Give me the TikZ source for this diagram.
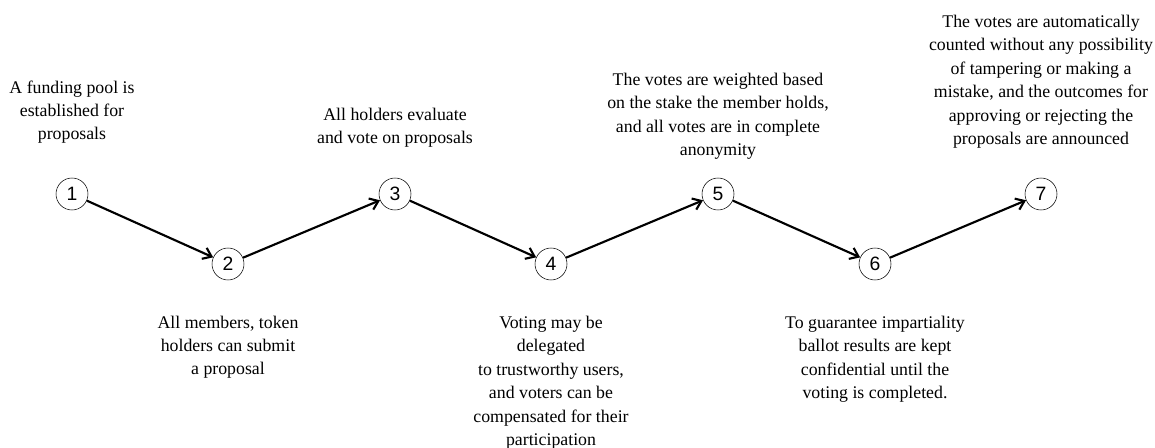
\documentclass[tikz,border=0pt]{standalone}
\usepackage{fontspec}
\setmainfont{Liberation Serif}
\newfontfamily\numfont{Liberation Sans}
\usetikzlibrary{arrows.meta}

\begin{document}
\begin{tikzpicture}[x=0.75pt, y=-0.75pt,
        stepnum/.style={draw=black, thin, circle, minimum size=24pt, inner sep=0pt,
            font=\numfont\fontsize{14.5}{14.5}\selectfont},
        stepnote/.style={align=center, anchor=base, inner sep=0pt,
            font=\fontsize{13.35}{17.6}\selectfont},
        stepline/.style={draw=black, line width=1.6pt,
            -{Straight Barb[length=6pt,width=9pt]}}]
        \useasboundingbox (0,0) rectangle (1155,448);

        % steps
        \node[stepnum] (s1) at (72,194) {1};
        \node[stepnum] (s2) at (228,264) {2};
        \node[stepnum] (s3) at (395,194) {3};
        \node[stepnum] (s4) at (551,264) {4};
        \node[stepnum] (s5) at (718,194) {5};
        \node[stepnum] (s6) at (875,264) {6};
        \node[stepnum] (s7) at (1041,194) {7};

        \draw[stepline] (s1) -- (s2);
        \draw[stepline] (s2) -- (s3);
        \draw[stepline] (s3) -- (s4);
        \draw[stepline] (s4) -- (s5);
        \draw[stepline] (s5) -- (s6);
        \draw[stepline] (s6) -- (s7);

        % notes (placed at the baseline of their last line)
        \node[stepnote] (n1) at (72,140) {A funding pool is\\ established for\\ proposals};
        \node[stepnote] (n2) at (228,375) {All members, token\\ holders can submit\\ a proposal};
        \node[stepnote] (n3) at (395,143.5) {All holders evaluate\\ and vote on proposals};
        \node[stepnote] (n4) at (551,445.5) {Voting may be\\ delegated\\ to trustworthy users,\\ and voters can be\\ compensated for their\\ participation};
        \node[stepnote] (n5) at (718,155.5) {The votes are weighted based\\ on the stake the member holds,\\ and all votes are in complete\\ anonymity};
        \node[stepnote] (n6) at (875,398.5) {To guarantee impartiality\\ ballot results are kept\\ confidential until the\\ voting is completed.};
        \node[stepnote] (n7) at (1041,144.5) {The votes are automatically\\ counted without any possibility\\ of tampering or making a\\ mistake, and the outcomes for\\ approving or rejecting the\\ proposals are announced};
\end{tikzpicture}
\end{document}
